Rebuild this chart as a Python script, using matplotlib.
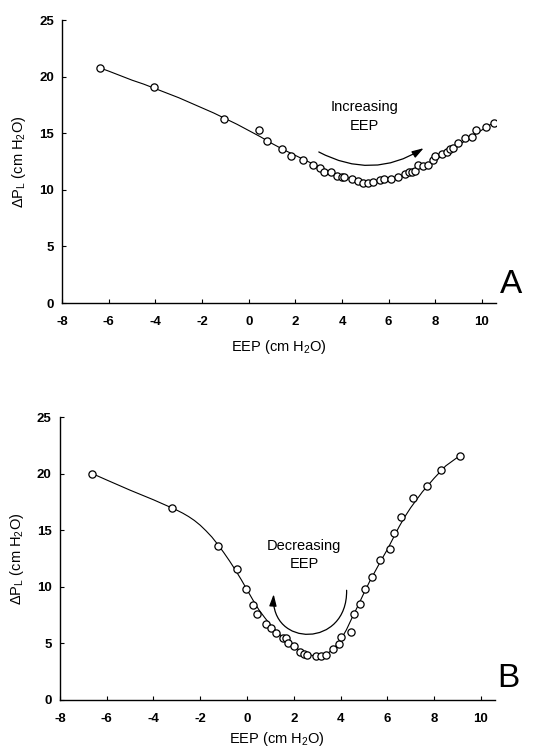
import matplotlib
matplotlib.use("Agg")
import matplotlib.pyplot as plt
from matplotlib.patches import FancyArrowPatch
from matplotlib.path import Path

plt.rcParams["font.family"] = ["Liberation Sans", "DejaVu Sans"]
plt.rcParams["mathtext.default"] = "regular"
plt.rcParams["axes.unicode_minus"] = False

# Panel A: increasing end-expiratory pressure
eep_a = [-6.37, -4.05, -1.04, 0.43, 0.77, 1.44, 1.83, 2.34, 2.77, 3.05,
         3.23, 3.53, 3.77, 3.98, 4.08, 4.41, 4.70, 4.91, 5.12, 5.34,
         5.62, 5.80, 6.08, 6.41, 6.70, 6.88, 7.02, 7.12, 7.27, 7.48,
         7.69, 7.91, 7.98, 8.27, 8.48, 8.62, 8.77, 8.98, 9.26, 9.59,
         9.76, 10.19, 10.52]
dpl_a = [20.75, 19.13, 16.27, 15.27, 14.33, 13.63, 12.98, 12.63, 12.24, 11.92,
         11.60, 11.54, 11.24, 11.12, 11.12, 10.95, 10.83, 10.65, 10.60, 10.74,
         10.89, 10.95, 10.98, 11.12, 11.39, 11.54, 11.62, 11.71, 12.24, 12.15,
         12.21, 12.65, 13.04, 13.18, 13.39, 13.60, 13.74, 14.13, 14.60, 14.69,
         15.30, 15.54, 15.95]

# fitted curve, panel A
fit_x_a = [-6.4, -6.0, -5.5, -5.0, -4.5, -4.0, -3.5, -3.0, -2.5, -2.0,
           -1.5, -1.0, -0.5, 0.0, 0.5, 1.0, 1.5, 2.0, 2.5, 3.0,
           3.5, 4.0, 4.5, 5.0, 5.5, 6.0, 6.5, 7.0, 7.5, 8.0,
           8.5, 9.0, 9.5, 10.0, 10.5]
fit_y_a = [20.8, 20.5, 20.1, 19.7, 19.35, 18.95, 18.55, 18.15, 17.7, 17.25,
           16.8, 16.3, 15.8, 15.25, 14.7, 14.1, 13.55, 13.05, 12.55, 12.05,
           11.6, 11.2, 10.95, 10.8, 10.8, 10.95, 11.2, 11.6, 12.1, 12.65,
           13.3, 13.95, 14.65, 15.3, 15.95]

# Panel B: decreasing end-expiratory pressure
eep_b = [-6.62, -3.22, -1.22, -0.44, -0.04, 0.26, 0.44, 0.82, 1.04, 1.25,
         1.56, 1.66, 1.74, 1.99, 2.27, 2.45, 2.55, 2.94, 3.16, 3.36,
         3.66, 3.94, 4.04, 4.44, 4.57, 4.82, 5.06, 5.36, 5.70, 6.10,
         6.28, 6.60, 7.09, 7.70, 8.30, 9.10]
dpl_b = [20.0, 16.97, 13.62, 11.62, 9.79, 8.44, 7.62, 6.76, 6.38, 5.94,
         5.50, 5.50, 5.06, 4.76, 4.26, 4.03, 3.94, 3.88, 3.88, 3.94,
         4.47, 4.94, 5.59, 5.97, 7.62, 8.53, 9.85, 10.88, 12.41, 13.33,
         14.74, 16.18, 17.86, 18.92, 20.36, 21.60]

# fitted curve, panel B
fit_x_b = [-6.6, -6.0, -5.0, -4.0, -3.2, -3.0, -2.75, -2.5, -2.25, -2.0,
           -1.75, -1.5, -1.25, -1.0, -0.75, -0.5, -0.25, 0.0, 0.25, 0.5,
           0.75, 1.0, 1.25, 1.5, 1.75, 2.0, 2.25, 2.5, 2.75, 3.0,
           3.25, 3.5, 3.75, 4.0, 4.25, 4.5, 4.75, 5.0, 5.25, 5.5,
           5.75, 6.0, 6.25, 6.5, 6.75, 7.0, 7.5, 8.0, 8.5, 9.1]
fit_y_b = [20.0, 19.45, 18.55, 17.7, 16.97, 16.78, 16.52, 16.22, 15.87, 15.45,
           14.95, 14.4, 13.75, 13.05, 12.3, 11.5, 10.65, 9.75, 8.85, 8.0,
           7.3, 6.65, 6.1, 5.6, 5.15, 4.75, 4.4, 4.12, 3.95, 3.88,
           3.95, 4.2, 4.65, 5.3, 6.2, 7.3, 8.35, 9.45, 10.5, 11.45,
           12.4, 13.3, 14.3, 15.3, 16.2, 17.0, 18.4, 19.6, 20.7, 21.6]

x_ticks = [-8, -6, -4, -2, 0, 2, 4, 6, 8, 10]
y_ticks = [0, 5, 10, 15, 20, 25]


def draw_panel(ax, x, y, fx, fy, xlabel_pad):
    ax.plot(fx, fy, color="black", lw=0.8, zorder=2)
    ax.plot(x, y, "o", ms=5.2, mfc="white", mec="black", mew=0.9, zorder=3)
    ax.set_xlim(-8, 10.6)
    ax.set_ylim(0, 25)
    ax.set_xticks(x_ticks)
    ax.set_yticks(y_ticks)
    ax.tick_params(direction="in", length=3, width=0.8, labelsize=9.5)
    ax.tick_params(axis="x", pad=9.5)
    ax.tick_params(axis="y", pad=6)
    for lab in ax.get_xticklabels() + ax.get_yticklabels():
        lab.set_fontweight("bold")
    for side in ("top", "right"):
        ax.spines[side].set_visible(False)
    for side in ("left", "bottom"):
        ax.spines[side].set_linewidth(1.0)
    ax.set_xlabel("EEP (cm H$_2$O)", fontsize=10.5, labelpad=xlabel_pad)
    ax.set_ylabel("ΔP$_L$ (cm H$_2$O)", fontsize=10.5, labelpad=8)


fig = plt.figure(figsize=(5.45, 7.5), dpi=100)
ax_a = fig.add_axes([0.114, 0.596, 0.796, 0.377])
ax_b = fig.add_axes([0.110, 0.0667, 0.798, 0.377])

draw_panel(ax_a, eep_a, dpl_a, fit_x_a, fit_y_a, 7)
draw_panel(ax_b, eep_b, dpl_b, fit_x_b, fit_y_b, 3.5)

ax_a.text(4.98, 16.5, "Increasing\nEEP", ha="center", va="center",
          fontsize=10.5, linespacing=1.4)
ax_b.text(2.45, 12.8, "Decreasing\nEEP", ha="center", va="center",
          fontsize=10.5, linespacing=1.4)

head = "-|>,head_length=0.7,head_width=0.22"

# shallow arc sweeping to the right above the minimum
arrow_a = FancyArrowPatch((2.9, 13.47), (7.6, 13.82),
                          connectionstyle="arc3,rad=0.3",
                          arrowstyle=head, mutation_scale=10,
                          color="black", lw=0.9)
ax_a.add_patch(arrow_a)

# U-shaped arc running right to left, head pointing up
u_path = Path([(4.26, 9.7), (4.3, 4.6), (1.0, 4.6), (1.14, 9.35)],
              [Path.MOVETO, Path.CURVE4, Path.CURVE4, Path.CURVE4])
arrow_b = FancyArrowPatch(path=u_path, arrowstyle=head, mutation_scale=10,
                          color="black", lw=0.9)
ax_b.add_patch(arrow_b)

fig.text(0.917, 0.609, "A", fontsize=24)
fig.text(0.912, 0.084, "B", fontsize=24)

fig.savefig("out.png", dpi=100, facecolor="white")
